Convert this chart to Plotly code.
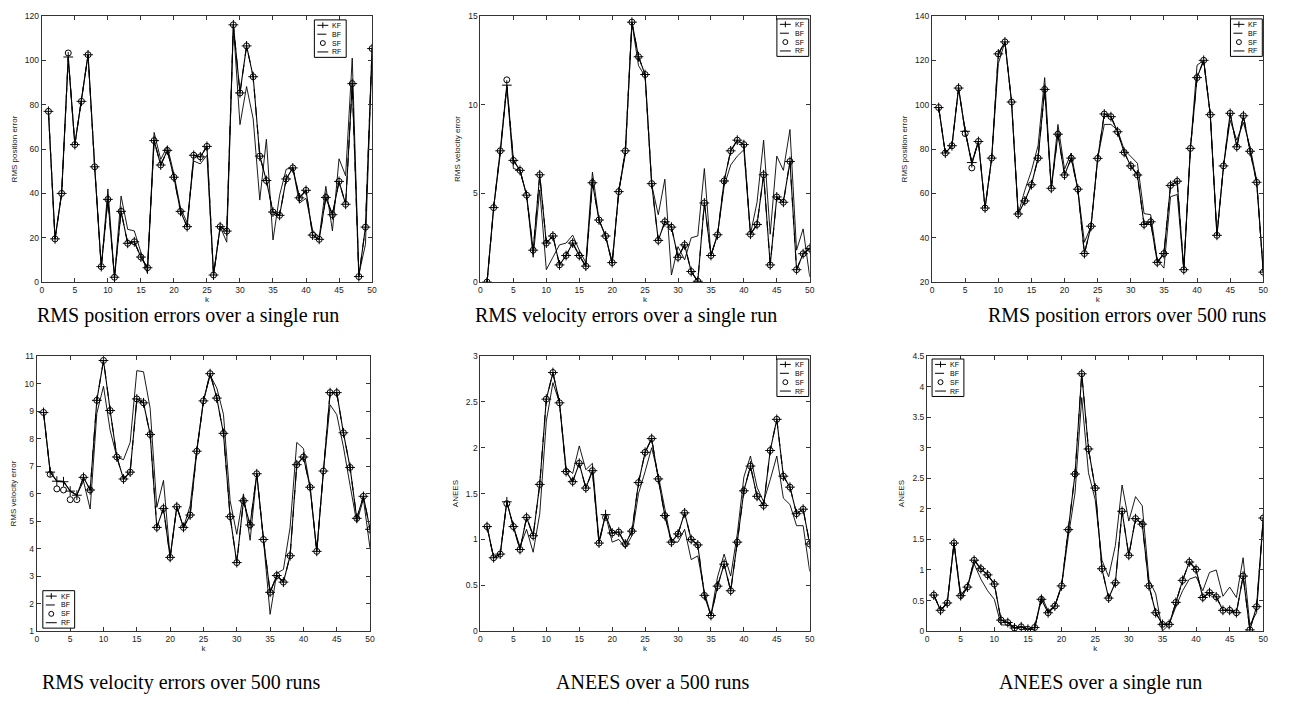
import plotly.graph_objects as go

# -----------------------------
# Data (k = 1..50)
# -----------------------------
K = list(range(1, 51))

# RMS position errors over a single run
pos_single_kf = [77, 19.5, 40, 101.5, 62, 81.5, 102.5, 52, 7, 37.3,
                 2.2, 31.9, 17.5, 18.2, 11.3, 6.5, 63.8, 52.8, 59.4, 47.3,
                 31.9, 25, 57.2, 56.5, 61.2, 3.2, 25, 23, 116, 85.3,
                 106.5, 92.6, 56.8, 45.8, 31.6, 30.1, 46.5, 51.5, 38, 41.4,
                 21.2, 19.3, 38.2, 30.4, 45.4, 35.1, 89.5, 2.5, 24.8, 105.3]
pos_single_sf = [77, 19.5, 40, 103.3, 62, 81.5, 102.5, 52, 7, 37.3,
                 2.2, 31.9, 17.5, 18.2, 11.3, 6.5, 63.8, 52.8, 59.4, 47.3,
                 31.9, 25, 57.2, 56.5, 61.2, 3.2, 25, 23, 116, 85.3,
                 106.5, 92.6, 56.8, 45.8, 31.6, 30.1, 46.5, 51.5, 38, 41.4,
                 21.2, 19.3, 38.2, 30.4, 45.4, 35.1, 89.5, 2.5, 24.8, 105.3]
pos_single_rf = [77, 19.5, 40, 101, 62, 81.5, 102.5, 52, 6, 42,
                 2, 38.8, 23.8, 23.1, 13, 3.8, 67.5, 55.3, 61.2, 48.7,
                 33.4, 26.8, 54.6, 53.3, 57.2, 3, 25, 18, 116, 71,
                 88.2, 73.6, 37, 64.4, 19, 39.2, 50.9, 51.6, 35.6, 37.8,
                 23.4, 20.2, 43.2, 23.1, 55.6, 48, 101, 3.5, 17, 103]

# RMS velocity errors over a single run
vel_single_kf = [0, 4.2, 7.4, 11.1, 6.86, 6.3, 4.9, 1.8, 6.05, 2.2,
                 2.6, 0.97, 1.5, 2.2, 1.5, 0.9, 5.6, 3.5, 2.6, 1.1,
                 5.1, 7.4, 14.65, 12.7, 11.7, 5.55, 2.35, 3.4, 3.1, 1.4,
                 2.1, 0.6, 0.05, 4.46, 1.5, 2.67, 5.7, 7.4, 8.0, 7.75,
                 2.7, 3.25, 6.05, 0.97, 4.8, 4.5, 6.8, 0.7, 1.6, 1.9]
vel_single_sf = [0, 4.2, 7.4, 11.4, 6.86, 6.3, 4.9, 1.8, 6.05, 2.2,
                 2.6, 0.97, 1.5, 2.2, 1.5, 0.9, 5.6, 3.5, 2.6, 1.1,
                 5.1, 7.4, 14.65, 12.7, 11.7, 5.55, 2.35, 3.4, 3.1, 1.4,
                 2.1, 0.6, 0.05, 4.46, 1.5, 2.67, 5.7, 7.4, 8.0, 7.75,
                 2.7, 3.25, 6.05, 0.97, 4.8, 4.5, 6.8, 0.7, 1.6, 1.9]
vel_single_rf = [0, 4.2, 7.2, 11.0, 6.4, 6.3, 4.9, 1.4, 5.2, 0.7,
                 1.4, 2.1, 2.2, 2.65, 1.8, 1.1, 6.2, 3.5, 2.6, 1.0,
                 5.1, 7.2, 14.6, 12.2, 11.6, 5.5, 3.8, 5.8, 0.4, 2.0,
                 1.25, 2.5, 2.6, 6.4, 1.5, 2.67, 5.4, 6.6, 7.1, 7.46,
                 2.7, 4.5, 8.0, 2.7, 7.1, 6.3, 8.6, 1.8, 3.0, 0.3]

# RMS position errors over 500 runs
pos_500_kf = [98.7, 78.2, 81.5, 107.5, 88, 73.9, 83.4, 53.4, 75.9, 122.9,
              128.3, 101.2, 50.7, 56.6, 63.9, 75.9, 106.9, 62.3, 86.7, 68.3,
              75.9, 61.9, 32.9, 45.2, 75.8, 95.8, 94.6, 87.8, 78.5, 72.4,
              68.3, 46, 47.2, 28.9, 32.9, 63.6, 65.5, 25.6, 80.3, 112.2,
              120, 95.5, 41.1, 72.4, 96.1, 81, 95, 79, 65, 24.5]
pos_500_sf = [98.7, 78.2, 81.5, 107.5, 87, 71.5, 83.4, 53.4, 75.9, 122.9,
              128.3, 101.2, 50.7, 56.6, 63.9, 75.9, 106.9, 62.3, 86.7, 68.3,
              75.9, 61.9, 32.9, 45.2, 75.8, 95.8, 94.6, 87.8, 78.5, 72.4,
              68.3, 46, 47.2, 28.9, 32.9, 63.6, 65.5, 25.6, 80.3, 112.2,
              120, 95.5, 41.1, 72.4, 96.1, 81, 95, 79, 65, 24.5]
pos_500_rf = [98.7, 78.2, 81.5, 107.5, 88, 73, 83.4, 53.4, 75.9, 118.5,
              128.3, 101.2, 50.7, 61.4, 70.2, 81.5, 112.2, 62.3, 91.1, 70.9,
              78.2, 61.9, 38, 45.2, 75.8, 91.1, 91.1, 88.5, 79.7, 76.5,
              73.6, 50.9, 50.4, 30, 26.3, 58.5, 59.5, 25.6, 80.3, 117.8,
              120, 95.5, 41.1, 72.4, 93, 84, 92, 81, 66, 24.5]

# RMS velocity errors over 500 runs
vel_500_kf = [8.95, 6.78, 6.45, 6.43, 6.09, 5.94, 6.59, 6.13, 9.39, 10.84,
              9.02, 7.33, 6.53, 6.78, 9.44, 9.3, 8.15, 4.77, 5.46, 3.68,
              5.52, 4.77, 5.22, 7.54, 9.37, 10.36, 9.47, 8.19, 5.16, 3.49,
              5.74, 4.86, 6.72, 4.33, 2.41, 3.02, 2.78, 3.74, 7.05, 7.33,
              6.23, 3.9, 6.82, 9.67, 9.67, 8.21, 6.95, 5.1, 5.9, 4.7]
vel_500_sf = [8.95, 6.7, 6.17, 6.13, 5.78, 5.78, 6.59, 6.13, 9.39, 10.84,
              9.02, 7.33, 6.53, 6.78, 9.44, 9.3, 8.15, 4.77, 5.46, 3.68,
              5.52, 4.77, 5.22, 7.54, 9.37, 10.36, 9.47, 8.19, 5.16, 3.49,
              5.74, 4.86, 6.72, 4.33, 2.41, 3.02, 2.78, 3.74, 7.05, 7.33,
              6.23, 3.9, 6.82, 9.67, 9.67, 8.21, 6.95, 5.1, 5.9, 4.7]
vel_500_rf = [8.95, 6.8, 6.45, 6.45, 6.1, 5.95, 6.45, 5.44, 8.92, 9.9,
              8.3, 7.33, 7.23, 7.86, 10.47, 10.43, 9.1, 5.5, 6.48, 3.68,
              5.52, 4.77, 5.56, 7.6, 9.37, 10.3, 9.84, 8.88, 5.74, 4.52,
              5.99, 4.3, 6.72, 4.33, 1.61, 3.1, 3.24, 4.77, 7.86, 7.64,
              6.23, 3.9, 6.82, 9.23, 8.87, 7.7, 6.3, 4.95, 5.8, 4.0]

# ANEES over 500 runs
anees_500_kf = [1.14, 0.80, 0.84, 1.41, 1.14, 0.89, 1.24, 1.04, 1.6, 2.53,
                2.82, 2.49, 1.74, 1.63, 1.83, 1.56, 1.75, 0.96, 1.27, 1.07,
                1.08, 0.95, 1.09, 1.62, 1.95, 2.1, 1.66, 1.26, 0.97, 1.06,
                1.29, 1.0, 0.94, 0.39, 0.17, 0.49, 0.73, 0.44, 0.97, 1.53,
                1.8, 1.47, 1.37, 1.97, 2.31, 1.69, 1.57, 1.28, 1.33, 0.95]
anees_500_sf = [1.14, 0.80, 0.84, 1.39, 1.14, 0.89, 1.24, 1.04, 1.6, 2.53,
                2.82, 2.49, 1.74, 1.63, 1.83, 1.56, 1.75, 0.96, 1.24, 1.07,
                1.08, 0.95, 1.09, 1.62, 1.95, 2.1, 1.66, 1.26, 0.97, 1.06,
                1.29, 1.0, 0.94, 0.39, 0.17, 0.49, 0.73, 0.44, 0.97, 1.53,
                1.8, 1.47, 1.37, 1.97, 2.31, 1.69, 1.57, 1.28, 1.33, 0.95]
anees_500_rf = [1.14, 0.80, 0.84, 1.41, 1.14, 0.92, 1.11, 0.86, 1.28, 2.29,
                2.71, 2.49, 1.78, 1.72, 2.02, 1.76, 1.83, 0.99, 1.27, 0.97,
                1.0, 0.91, 1.04, 1.5, 1.74, 2.0, 1.7, 1.35, 0.97, 0.97,
                1.11, 0.78, 0.82, 0.43, 0.17, 0.59, 0.84, 0.6, 1.06, 1.68,
                1.91, 1.57, 1.41, 1.65, 1.91, 1.45, 1.38, 1.15, 1.15, 0.65]

# ANEES over a single run
anees_single_kf = [0.59, 0.34, 0.46, 1.44, 0.58, 0.72, 1.16, 1.02, 0.92, 0.77,
                   0.18, 0.14, 0.05, 0.07, 0.03, 0.06, 0.52, 0.3, 0.41, 0.74,
                   1.66, 2.57, 4.21, 2.98, 2.34, 1.02, 0.54, 0.79, 1.96, 1.24,
                   1.84, 1.75, 0.74, 0.3, 0.11, 0.11, 0.47, 0.83, 1.13, 1.01,
                   0.55, 0.63, 0.56, 0.34, 0.34, 0.3, 0.9, 0.02, 0.4, 1.85]
anees_single_sf = [0.59, 0.34, 0.46, 1.44, 0.58, 0.72, 1.16, 1.02, 0.92, 0.77,
                   0.18, 0.14, 0.05, 0.07, 0.03, 0.06, 0.52, 0.3, 0.41, 0.74,
                   1.66, 2.57, 4.21, 2.98, 2.34, 1.02, 0.54, 0.79, 1.96, 1.24,
                   1.84, 1.75, 0.74, 0.3, 0.11, 0.11, 0.47, 0.83, 1.13, 1.01,
                   0.55, 0.63, 0.56, 0.34, 0.34, 0.3, 0.9, 0.02, 0.4, 1.85]
anees_single_rf = [0.59, 0.34, 0.46, 1.44, 0.52, 0.72, 1.1, 0.85, 0.66, 0.52,
                   0.1, 0.1, 0.05, 0.07, 0.03, 0.03, 0.58, 0.33, 0.41, 0.74,
                   1.54, 2.26, 3.82, 2.59, 2.15, 1.16, 0.89, 1.4, 2.39, 1.8,
                   2.2, 2.05, 0.84, 0.61, 0.0, 0.11, 0.4, 0.66, 0.85, 0.89,
                   0.66, 0.96, 1.0, 0.57, 0.72, 0.55, 1.2, 0.1, 0.3, 1.85]

# BF sits exactly on top of KF in every panel, so its read values are the same
pos_single_bf = list(pos_single_kf)
vel_single_bf = list(vel_single_kf)
pos_500_bf = list(pos_500_kf)
vel_500_bf = list(vel_500_kf)
anees_500_bf = list(anees_500_kf)
anees_single_bf = list(anees_single_kf)

SERIES_NAMES = ["KF", "BF", "SF", "RF"]

# -----------------------------
# Page geometry (pixels of the 1315x704 page)
# -----------------------------
W, H = 1315, 704
LEG_W, LEG_H = 32, 38


def px_x(x):
    return x / W


def px_y(y):
    return 1 - y / H


# box = (left, top, right, bottom) in pixels; cap = caption centre (x, y)
PANELS = [
    dict(series=(pos_single_kf, pos_single_bf, pos_single_sf, pos_single_rf),
         yrange=[0, 120], dtick=20, ytitle="RMS position error",
         caption="RMS position errors over a single run",
         box=(32, 3, 364, 273), legend="top-mid", cap=(179, 307)),
    dict(series=(vel_single_kf, vel_single_bf, vel_single_sf, vel_single_rf),
         yrange=[0, 15], dtick=5, ytitle="RMS velocity error",
         caption="RMS velocity errors over a single run",
         box=(473, 3, 804, 273), legend="top-right", cap=(619, 307)),
    dict(series=(pos_500_kf, pos_500_bf, pos_500_sf, pos_500_rf),
         yrange=[20, 140], dtick=20, ytitle="RMS position error",
         caption="RMS position errors over 500 runs",
         box=(927, 3, 1260, 273), legend="top-right", cap=(1123, 307)),
    dict(series=(vel_500_kf, vel_500_bf, vel_500_sf, vel_500_rf),
         yrange=[1, 11], dtick=1, ytitle="RMS velocity error",
         caption="RMS velocity errors over 500 runs",
         box=(27, 348, 362, 627), legend="bottom-left", cap=(172, 679)),
    dict(series=(anees_500_kf, anees_500_bf, anees_500_sf, anees_500_rf),
         yrange=[0, 3], dtick=0.5, ytitle="ANEES",
         caption="ANEES over a 500 runs",
         box=(473, 348, 804, 627), legend="top-right", cap=(646, 679)),
    dict(series=(anees_single_kf, anees_single_bf, anees_single_sf, anees_single_rf),
         yrange=[0, 4.5], dtick=0.5, ytitle="ANEES",
         caption="ANEES over a single run",
         box=(922, 348, 1260, 627), legend="top-left", cap=(1096, 679)),
]

AXIS_FONT = dict(family="Arial, Liberation Sans, sans-serif", size=8.5, color="#222")
TITLE_FONT = dict(family="Arial, Liberation Sans, sans-serif", size=8, color="#222")
LEG_FONT = dict(family="Arial, Liberation Sans, sans-serif", size=7, color="black")


def legend_origin(box, where):
    x0, y0, x1, y1 = box
    if where == "top-right":
        return x1 - LEG_W - 1, y0 + 3
    if where == "top-left":
        return x0 + 5, y0 + 3
    if where == "bottom-left":
        return x0 + 6, y1 - LEG_H - 3
    # MATLAB placed the first panel's box left of the corner
    return x1 - LEG_W - 26, y0 + 4


def draw_legend(fig, box, where):
    # MATLAB-style boxed legend: line sample on the left, name on the right
    lx, ly = legend_origin(box, where)
    fig.add_shape(type="rect", xref="paper", yref="paper", layer="above",
                  x0=px_x(lx), x1=px_x(lx + LEG_W), y0=px_y(ly + LEG_H), y1=px_y(ly),
                  line=dict(color="black", width=1), fillcolor="white")
    s0, s1 = lx + 3, lx + 14
    mid = (s0 + s1) / 2
    for j, name in enumerate(SERIES_NAMES):
        cy = ly + 5.5 + j * 9
        if name in ("KF", "RF", "BF"):
            fig.add_shape(type="line", xref="paper", yref="paper", layer="above",
                          x0=px_x(s0), x1=px_x(s1), y0=px_y(cy), y1=px_y(cy),
                          line=dict(color="black", width=1,
                                    dash="dash" if name == "BF" else "solid"))
        if name == "KF":
            fig.add_shape(type="line", xref="paper", yref="paper", layer="above",
                          x0=px_x(mid), x1=px_x(mid), y0=px_y(cy + 3), y1=px_y(cy - 3),
                          line=dict(color="black", width=1))
        if name == "SF":
            fig.add_shape(type="circle", xref="paper", yref="paper", layer="above",
                          x0=px_x(mid - 2.5), x1=px_x(mid + 2.5),
                          y0=px_y(cy + 2.5), y1=px_y(cy - 2.5),
                          line=dict(color="black", width=1))
        fig.add_annotation(x=px_x(s1 + 2), y=px_y(cy), xref="paper", yref="paper",
                           text=name, showarrow=False, xanchor="left", yanchor="middle",
                           font=LEG_FONT)


def add_panel(fig, i, p):
    n = "" if i == 0 else str(i + 1)
    xa, ya = "x" + n, "y" + n
    kf, bf, sf, rf = p["series"]

    fig.add_trace(go.Scatter(
        x=K, y=kf, name="KF", mode="lines+markers", xaxis=xa, yaxis=ya,
        line=dict(color="black", width=1.1),
        marker=dict(symbol="cross-thin-open", size=7, line=dict(color="black", width=1))))
    fig.add_trace(go.Scatter(
        x=K, y=bf, name="BF", mode="lines", xaxis=xa, yaxis=ya,
        line=dict(color="black", width=1.1, dash="dash")))
    fig.add_trace(go.Scatter(
        x=K, y=sf, name="SF", mode="markers", xaxis=xa, yaxis=ya,
        marker=dict(symbol="circle-open", size=6, color="black", line=dict(color="black", width=1))))
    fig.add_trace(go.Scatter(
        x=K, y=rf, name="RF", mode="lines", xaxis=xa, yaxis=ya,
        line=dict(color="black", width=0.9)))

    x0, y0, x1, y1 = p["box"]
    axis_common = dict(showline=True, linecolor="#333", linewidth=1.2, mirror="ticks",
                       ticks="inside", ticklen=4, tickwidth=1, tickcolor="#333",
                       showgrid=False, zeroline=False, tickfont=AXIS_FONT)
    fig.update_layout({
        "xaxis" + n: dict(domain=[px_x(x0), px_x(x1)], range=[0, 50], dtick=5,
                          anchor=ya, title=dict(text="k", font=TITLE_FONT, standoff=0),
                          **axis_common),
        "yaxis" + n: dict(domain=[px_y(y1), px_y(y0)], range=p["yrange"], dtick=p["dtick"],
                          anchor=xa, title=dict(text=p["ytitle"], font=TITLE_FONT, standoff=6),
                          **axis_common),
    })

    draw_legend(fig, p["box"], p["legend"])

    cx, cy = p["cap"]
    fig.add_annotation(
        x=px_x(cx), y=px_y(cy), xref="paper", yref="paper",
        text=p["caption"], showarrow=False, xanchor="center", yanchor="middle",
        font=dict(family="Liberation Serif, Times New Roman, serif", size=20, color="black"))


def main():
    fig = go.Figure()
    for i, p in enumerate(PANELS):
        add_panel(fig, i, p)

    fig.update_layout(width=W, height=H, margin=dict(l=0, r=0, t=0, b=0),
                      paper_bgcolor="white", plot_bgcolor="white",
                      hovermode=False, showlegend=False)
    fig.write_html("out.html")


if __name__ == "__main__":
    main()
